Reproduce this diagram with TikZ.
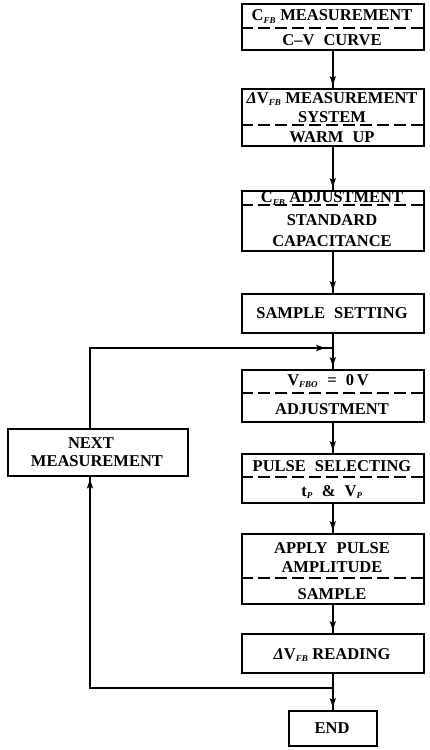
\documentclass[tikz,border=0pt]{standalone}
\usepackage{fontspec}
\setmainfont{Liberation Serif}
\usetikzlibrary{arrows.meta,decorations.markings}
\newcommand\wgap{\hspace{0.55em}}
\newcommand\fbsub[1]{\textsubscript{\fontsize{9}{9}\selectfont\itshape #1}}
\begin{document}
\begin{tikzpicture}[x=1pt,y=-1pt,
  box/.style={draw, line width=1.6pt, minimum width=182pt, inner sep=0pt, anchor=north west},
  txt/.style={font=\bfseries\fontsize{16.5}{19}\selectfont, inner sep=0pt, anchor=base},
  sep/.style={line width=1.3pt, dash pattern=on 12pt off 5pt},
  tipmark/.style={postaction={decorate},
    decoration={markings, mark=at position #1 with {\fill (2pt,0) -- (-7pt,3.2pt) -- (-5pt,0) -- (-7pt,-3.2pt) -- cycle;}}},
  conn/.style={line width=1.5pt, tipmark=-5pt},
  loopconn/.style={line width=1.5pt, tipmark=-9pt}]
\useasboundingbox (0,0) rectangle (429,750);

% boxes
\node[box, minimum height=46pt] (b1) at (241,3) {};
\node[box, minimum height=57pt] (b2) at (241,88) {};
\node[box, minimum height=60pt] (b3) at (241,190) {};
\node[box, minimum height=39pt] (b4) at (241,293) {};
\node[box, minimum height=52pt] (b5) at (241,369) {};
\node[box, minimum height=49pt] (b6) at (241,453) {};
\node[box, minimum height=70pt] (b7) at (241,533) {};
\node[box, minimum height=39pt] (b8) at (241,633) {};
\node[box, minimum width=88pt, minimum height=35pt] (bend) at (288,710) {};
\node[box, minimum width=180pt, minimum height=47pt] (bnext) at (7,428) {};

% dashed separators
\draw[sep] (b1.west |- 0,28) -- (b1.east |- 0,28);
\draw[sep] (b2.west |- 0,125) -- (b2.east |- 0,125);
\draw[sep] (b3.west |- 0,205) -- (b3.east |- 0,205);
\draw[sep] (b5.west |- 0,393) -- (b5.east |- 0,393);
\draw[sep] (b6.west |- 0,477) -- (b6.east |- 0,477);
\draw[sep] (b7.west |- 0,578) -- (b7.east |- 0,578);

% texts
\node[txt] (t1a) at (332,20.5) {C\fbsub{FB} MEASUREMENT};
\node[txt] (t1b) at (332,45.5) {C--V\wgap CURVE};
\node[txt] (t2a) at (332,103) {\textit{Δ}V\fbsub{FB} MEASUREMENT};
\node[txt] (t2b) at (332,122) {SYSTEM};
\node[txt] (t2c) at (332,142) {WARM\wgap UP};
\node[txt] (t3a) at (332,202.5) {C\fbsub{FB} ADJUSTMENT};
\node[txt] (t3b) at (332,225) {STANDARD};
\node[txt] (t3c) at (332,246) {CAPACITANCE};
\node[txt] (t4) at (332,318) {SAMPLE\wgap SETTING};
\node[txt] (t5a) at (328,385) {V\fbsub{FBO}\wgap =\wgap 0\,V};
\node[txt] (t5b) at (332,414) {ADJUSTMENT};
\node[txt] (t6a) at (332,471) {PULSE\wgap SELECTING};
\node[txt] (t6b) at (332,496) {t\fbsub{P}\wgap \&\wgap V\fbsub{P}};
\node[txt] (t7a) at (332,553) {APPLY\wgap PULSE};
\node[txt] (t7b) at (332,572) {AMPLITUDE};
\node[txt] (t7c) at (332,599) {SAMPLE};
\node[txt] (t8) at (332,659) {\textit{Δ}V\fbsub{FB} READING};
\node[txt] (tend) at (332,733) {END};
\node[txt] (tn1) at (91,448) {NEXT};
\node[txt] (tn2) at (97,466) {MEASUREMENT};

% junctions
\coordinate (j1) at (332,348);
\coordinate (j2) at (332,688);
\coordinate (lx) at (90,0);

% connectors
\draw[conn] (b1.south) -- (b2.north);
\draw[conn] (b2.south) -- (b3.north);
\draw[conn] (b3.south) -- (b4.north);
\draw[conn] (b4.south) -- (b5.north);
\draw[conn] (b5.south) -- (b6.north);
\draw[conn] (b6.south) -- (b7.north);
\draw[conn] (b7.south) -- (b8.north);
\draw[conn] (b8.south) -- (bend.north);
\draw[conn] (j2) -| (lx |- bnext.south);
\draw[loopconn] (lx |- bnext.north) |- (j1);
\end{tikzpicture}
\end{document}
